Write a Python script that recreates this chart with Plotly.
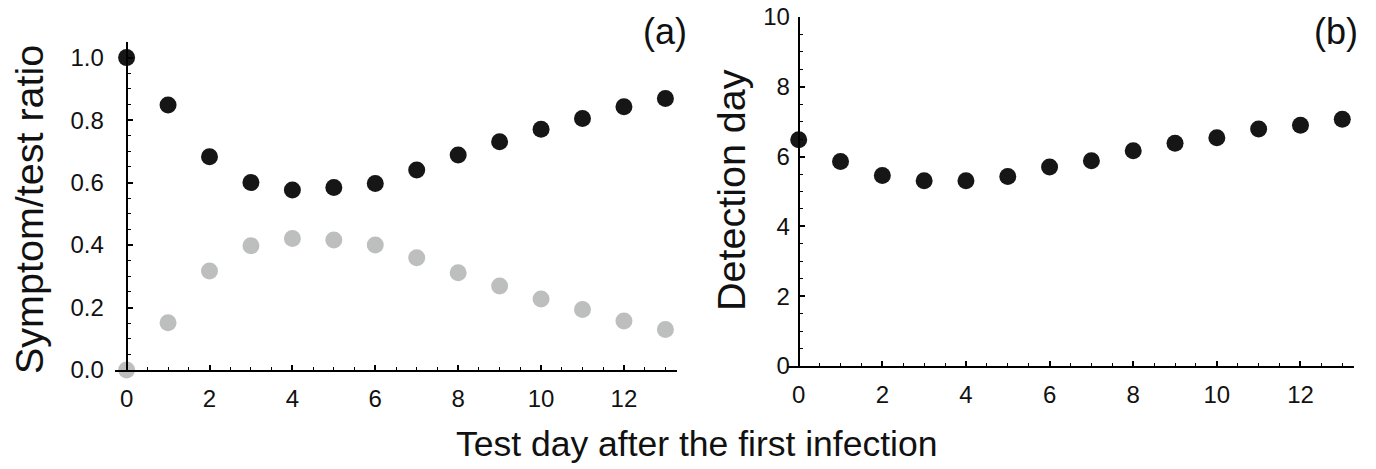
import plotly.graph_objects as go
from plotly.subplots import make_subplots

# %% values
test_day = list(range(14))
ratio_black = [1.0, 0.848, 0.683, 0.600, 0.576, 0.584, 0.597, 0.640, 0.688,
               0.731, 0.771, 0.805, 0.843, 0.869]
ratio_gray = [0.0, 0.151, 0.317, 0.398, 0.421, 0.416, 0.400, 0.359, 0.311,
              0.269, 0.227, 0.194, 0.157, 0.130]
detection_day = [6.48, 5.86, 5.46, 5.31, 5.31, 5.43, 5.70, 5.88, 6.17,
                 6.38, 6.54, 6.79, 6.90, 7.07]

W, H = 1376, 469
FONT = "Liberation Sans, Arial, Helvetica, sans-serif"
BLACK = "#161616"
GRAY = "#bdbfbf"

x_range = [-0.28, 13.28]
dom_a = dict(x=[115 / W, 677 / W], y=[(H - 370) / H, (H - 42) / H])
dom_b = dict(x=[787 / W, 1354 / W], y=[(H - 366) / H, (H - 17) / H])


def zero_pos(domain, rng):
    # paper position of x = 0, where the vertical axis crosses
    return domain[0] + (0 - rng[0]) / (rng[1] - rng[0]) * (domain[1] - domain[0])


fig = make_subplots(rows=1, cols=2)

fig.add_trace(go.Scatter(x=test_day, y=ratio_gray, mode="markers",
                         marker=dict(size=17, color=GRAY), cliponaxis=False),
              row=1, col=1)
fig.add_trace(go.Scatter(x=test_day, y=ratio_black, mode="markers",
                         marker=dict(size=17, color=BLACK), cliponaxis=False),
              row=1, col=1)
fig.add_trace(go.Scatter(x=test_day, y=detection_day, mode="markers",
                         marker=dict(size=17, color=BLACK), cliponaxis=False),
              row=1, col=2)

axis_common = dict(
    showgrid=False, zeroline=False, showline=True, linecolor="black",
    linewidth=2, ticks="inside", ticklen=5, tickwidth=1.6, tickcolor="black",
    tickfont=dict(family=FONT, size=24, color="#111"), automargin=False,
)

fig.update_xaxes(axis_common, range=x_range, dtick=2, tick0=0,
                 minor=dict(ticks="inside", ticklen=3, tickwidth=1.3,
                            tickcolor="black", dtick=0.5, showgrid=False),
                 ticklabelstandoff=6)
fig.update_layout(
    xaxis=dict(domain=dom_a["x"]),
    xaxis2=dict(domain=dom_b["x"]),
    yaxis=dict(axis_common, domain=dom_a["y"], range=[0, 1.05], dtick=0.2,
               tickformat=".1f", anchor="free",
               position=zero_pos(dom_a["x"], x_range),
               minor=dict(ticks="inside", ticklen=3, tickwidth=1.3,
                          tickcolor="black", dtick=0.05, showgrid=False),
               ticklabelstandoff=17),
    yaxis2=dict(axis_common, domain=dom_b["y"], range=[0, 10], dtick=2,
                anchor="free", position=zero_pos(dom_b["x"], x_range),
                minor=dict(ticks="inside", ticklen=3, tickwidth=1.3,
                           tickcolor="black", dtick=0.5, showgrid=False),
                ticklabelstandoff=3),
)

x_title_font = dict(family=FONT, size=35.5, color="#111")
y_title_font = dict(family=FONT, size=39.5, color="#111")
panel_font = dict(family=FONT, size=36, color="#111")
annotations = [
    dict(text="Test day after the first infection", x=697 / W, y=(H - 466) / H,
         xanchor="center", yanchor="bottom", font=x_title_font),
    dict(text="Symptom/test ratio", x=29 / W, y=(H - 210) / H, textangle=-90,
         xanchor="center", yanchor="middle", font=y_title_font),
    dict(text="Detection day", x=731 / W, y=(H - 190) / H, textangle=-90,
         xanchor="center", yanchor="middle", font=y_title_font),
    dict(text="(a)", x=689 / W, y=(H - 9) / H, xanchor="right", yanchor="top",
         font=panel_font),
    dict(text="(b)", x=1360 / W, y=(H - 9) / H, xanchor="right", yanchor="top",
         font=panel_font),
]
for a in annotations:
    a.update(xref="paper", yref="paper", showarrow=False)

fig.update_layout(
    width=W, height=H, margin=dict(l=0, r=0, t=0, b=0),
    plot_bgcolor="white", paper_bgcolor="white", showlegend=False,
    annotations=annotations,
)

# the page itself must be exactly the figure: no body margin
fig.write_html("out.html", config={"displayModeBar": False},
               post_script="document.body.style.margin = '0';")
